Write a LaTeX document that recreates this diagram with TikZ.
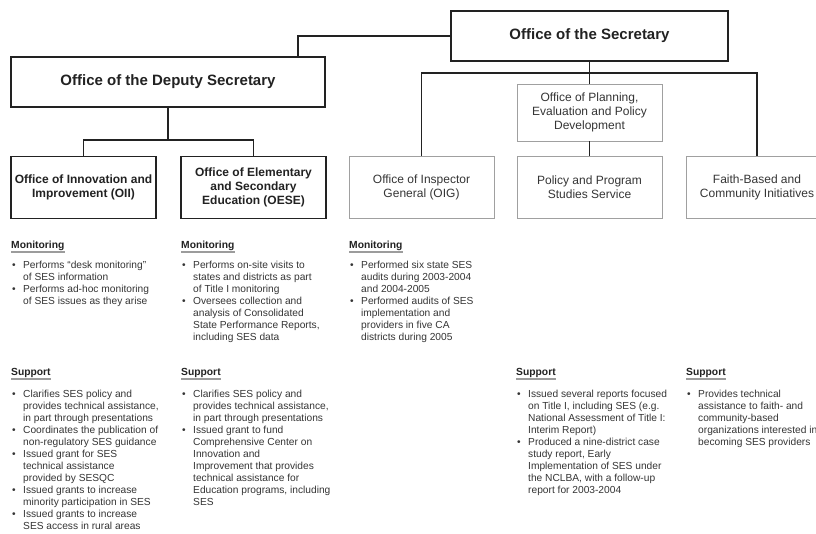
\documentclass[tikz,border=0pt]{standalone}
\usepackage{fontspec}
\setmainfont{Liberation Sans}
\usepackage{array}
\definecolor{ink}{HTML}{222222}
\definecolor{bodytxt}{HTML}{353535}
\definecolor{thinline}{HTML}{A0A0A0}
\definecolor{ulcol}{HTML}{9C9C9C}
\newcommand\blist[1]{\begin{tabular}[t]{@{}p{11pt}@{}l@{}}#1\end{tabular}}
\newcommand\bu{\textbullet}
\tikzset{
 topbox/.style={draw=ink, line width=1.3pt, font=\bfseries\fontsize{15}{18}\selectfont, text=ink, inner sep=0pt, align=center},
 boldbox/.style={draw=ink, line width=1.3pt, font=\bfseries\fontsize{12}{14}\selectfont, text=ink, inner sep=0pt, align=center, minimum width=145pt, minimum height=62pt},
 thinbox/.style={draw=thinline, line width=0.8pt, font=\fontsize{12}{14}\selectfont, text=bodytxt, inner sep=0pt, align=center, minimum width=145pt, minimum height=62pt},
 conn/.style={draw=ink, line width=1.2pt},
 hdr/.style={font=\bfseries\fontsize{10.3}{12}\selectfont, text=ink, inner sep=0pt, anchor=base west},
 uline/.style={draw=ulcol, line width=1.4pt},
 lst/.style={font=\fontsize{10.2}{12}\selectfont, text=bodytxt, inner sep=0pt, anchor=base west},
}
\begin{document}
\begin{tikzpicture}[x=1pt,y=-1pt]
\useasboundingbox (0,0) rectangle (816,533);
\fill[white] (0,0) rectangle (816,533);
\clip (0,0) rectangle (816,533);

% boxes
\node[topbox, minimum width=277pt, minimum height=50pt] (sec) at (589.5,36) {Office of the Secretary};
\node[topbox, minimum width=314pt, minimum height=50pt] (dep) at (168,82) {Office of the Deputy Secretary};
\node[boldbox] (oii) at (83.5,187.5) {Office of Innovation and\\Improvement (OII)};
\node[boldbox] (oese) at (253.5,187.5) {Office of Elementary\\and Secondary\\Education (OESE)};
\node[thinbox] (oig) at (421.5,187.5) {Office of Inspector\\General (OIG)};
\node[thinbox, minimum height=57pt] (opepd) at (589.5,112.5) {Office of Planning,\\Evaluation and Policy\\Development};
\node[thinbox] (ppss) at (589.5,187.5) {Policy and Program\\Studies Service};
\node[thinbox, minimum width=142pt] (faith) at (757,187.5) {Faith-Based and\\Community Initiatives};

% connectors
\coordinate (dj) at (298,57);
\coordinate (dbus) at (168,140);
\coordinate (sbus) at (589.5,73);
\draw[conn] (sec.west) -| (dj);
\draw[conn] (dep.south) -- (dbus);
\draw[conn] (oii.north) |- (oese.north |- dbus) -- (oese.north);
\draw[conn] (sec.south) -- (opepd.north);
\draw[conn] (oig.north) |- (faith.north |- sbus) -- (faith.north);
\draw[conn] (opepd.south) -- (ppss.north);

% Monitoring headers
\node[hdr] (hm1) at (11,248) {Monitoring};
\node[hdr] (hm2) at (181,248) {Monitoring};
\node[hdr] (hm3) at (349,248) {Monitoring};
\foreach \h in {hm1,hm2,hm3}{\draw[uline] ([yshift=-4pt]\h.base west) -- ([yshift=-4pt]\h.base east);}

% Support headers
\node[hdr] (hs1) at (11,375) {Support};
\node[hdr] (hs2) at (181,375) {Support};
\node[hdr] (hs4) at (516,375) {Support};
\node[hdr] (hs5) at (686,375) {Support};
\foreach \h in {hs1,hs2,hs4,hs5}{\draw[uline] ([yshift=-4pt]\h.base west) -- ([yshift=-4pt]\h.base east);}

% Monitoring lists
\node[lst] (lm1) at (12,268) {\blist{%
\bu & Performs “desk monitoring”\\
 & of SES information\\
\bu & Performs ad-hoc monitoring\\
 & of SES issues as they arise}};
\node[lst] (lm2) at (182,268) {\blist{%
\bu & Performs on-site visits to\\
 & states and districts as part\\
 & of Title I monitoring\\
\bu & Oversees collection and\\
 & analysis of Consolidated\\
 & State Performance Reports,\\
 & including SES data}};
\node[lst] (lm3) at (350,268) {\blist{%
\bu & Performed six state SES\\
 & audits during 2003-2004\\
 & and 2004-2005\\
\bu & Performed audits of SES\\
 & implementation and\\
 & providers in five CA\\
 & districts during 2005}};

% Support lists
\node[lst] (ls1) at (12,397) {\blist{%
\bu & Clarifies SES policy and\\
 & provides technical assistance,\\
 & in part through presentations\\
\bu & Coordinates the publication of\\
 & non-regulatory SES guidance\\
\bu & Issued grant for SES\\
 & technical assistance\\
 & provided by SESQC\\
\bu & Issued grants to increase\\
 & minority participation in SES\\
\bu & Issued grants to increase\\
 & SES access in rural areas}};
\node[lst] (ls2) at (182,397) {\blist{%
\bu & Clarifies SES policy and\\
 & provides technical assistance,\\
 & in part through presentations\\
\bu & Issued grant to fund\\
 & Comprehensive Center on\\
 & Innovation and\\
 & Improvement that provides\\
 & technical assistance for\\
 & Education programs, including\\
 & SES}};
\node[lst] (ls4) at (517,397) {\blist{%
\bu & Issued several reports focused\\
 & on Title I, including SES (e.g.\\
 & National Assessment of Title I:\\
 & Interim Report)\\
\bu & Produced a nine-district case\\
 & study report, Early\\
 & Implementation of SES under\\
 & the NCLBA, with a follow-up\\
 & report for 2003-2004}};
\node[lst] (ls5) at (687,397) {\blist{%
\bu & Provides technical\\
 & assistance to faith- and\\
 & community-based\\
 & organizations interested in\\
 & becoming SES providers}};
\end{tikzpicture}
\end{document}
